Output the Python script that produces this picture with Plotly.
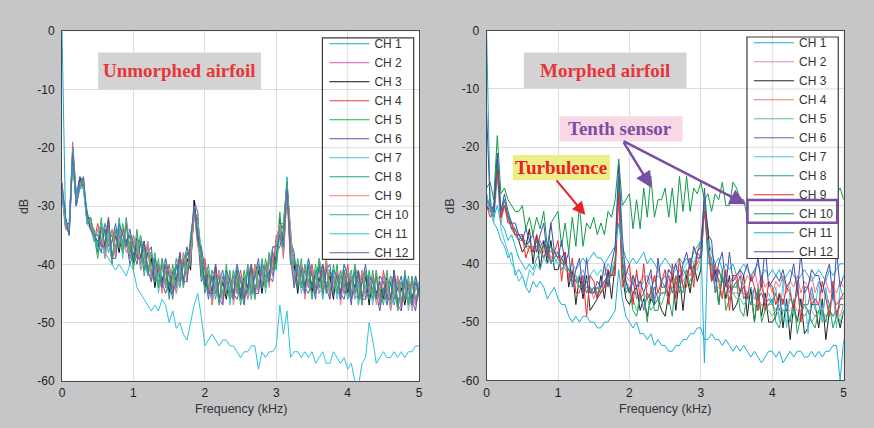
import plotly.graph_objects as go

W, H = 874, 428

FREQ = [0.00, 0.05, 0.10, 0.15, 0.20, 0.25, 0.30, 0.35, 0.40, 0.45,
        0.50, 0.55, 0.60, 0.65, 0.70, 0.75, 0.80, 0.85, 0.90, 0.95,
        1.00, 1.05, 1.10, 1.15, 1.20, 1.25, 1.30, 1.35, 1.40, 1.45,
        1.50, 1.55, 1.60, 1.65, 1.70, 1.75, 1.80, 1.85, 1.90, 1.95,
        2.00, 2.05, 2.10, 2.15, 2.20, 2.25, 2.30, 2.35, 2.40, 2.45,
        2.50, 2.55, 2.60, 2.65, 2.70, 2.75, 2.80, 2.85, 2.90, 2.95,
        3.00, 3.05, 3.10, 3.15, 3.20, 3.25, 3.30, 3.35, 3.40, 3.45,
        3.50, 3.55, 3.60, 3.65, 3.70, 3.75, 3.80, 3.85, 3.90, 3.95,
        4.00, 4.05, 4.10, 4.15, 4.20, 4.25, 4.30, 4.35, 4.40, 4.45,
        4.50, 4.55, 4.60, 4.65, 4.70, 4.75, 4.80, 4.85, 4.90, 4.95,
        5.00]

CHANNELS = ["CH 1", "CH 2", "CH 3", "CH 4", "CH 5", "CH 6",
            "CH 7", "CH 8", "CH 9", "CH 10", "CH 11", "CH 12"]

X_TICKS = [0, 1, 2, 3, 4, 5]
X_TICK_LABELS = ["0", "1", "2", "3", "4", "5"]
Y_TICKS = [-60, -50, -40, -30, -20, -10, 0]
Y_TICK_LABELS = ["-60", "-50", "-40", "-30", "-20", "-10", "0"]

# ---------------- Unmorphed airfoil (dB) ----------------
U_CH1 = [0, -33, -34, -21, -29, -26, -26, -32, -33, -35,
         -37, -34, -34, -38, -36, -34, -37, -36, -33, -39,
         -39, -36, -36, -42, -38, -38, -43, -42, -40, -44,
         -44, -42, -40, -44, -40, -38, -40, -31, -32, -42,
         -43, -42, -42, -46, -43, -42, -45, -44, -42, -45,
         -45, -43, -41, -46, -42, -40, -44, -42, -39, -42,
         -39, -33, -34, -25, -36, -39, -44, -42, -41, -44,
         -44, -42, -40, -46, -41, -41, -45, -43, -42, -45,
         -44, -43, -41, -47, -43, -41, -46, -44, -42, -47,
         -45, -43, -43, -47, -44, -43, -46, -45, -43, -47,
         -44]
U_CH2 = [-28, -34, -33, -19, -28, -27, -25, -33, -32, -36,
         -34, -37, -33, -36, -35, -39, -34, -38, -32, -39,
         -36, -39, -35, -40, -37, -43, -40, -44, -39, -44,
         -41, -45, -39, -42, -39, -43, -37, -29, -31, -42,
         -40, -45, -41, -44, -42, -47, -42, -46, -41, -45,
         -42, -46, -40, -44, -41, -45, -41, -44, -38, -42,
         -36, -33, -33, -26, -35, -44, -41, -44, -40, -44,
         -41, -45, -39, -44, -40, -46, -42, -45, -41, -45,
         -41, -46, -40, -45, -42, -46, -43, -46, -41, -47,
         -42, -46, -42, -45, -43, -48, -43, -47, -42, -47,
         -45]
U_CH3 = [-27, -32, -35, -22, -30, -25, -27, -31, -34, -35,
         -38, -33, -37, -32, -39, -35, -38, -34, -36, -35,
         -40, -35, -39, -36, -41, -39, -44, -40, -43, -40,
         -45, -41, -43, -38, -43, -39, -41, -29, -35, -38,
         -44, -41, -45, -40, -46, -43, -46, -42, -45, -41,
         -46, -42, -44, -40, -45, -41, -45, -40, -42, -38,
         -40, -32, -37, -26, -39, -40, -45, -40, -44, -40,
         -45, -41, -43, -40, -44, -42, -46, -41, -45, -41,
         -45, -42, -44, -41, -46, -42, -47, -42, -45, -43,
         -46, -42, -46, -41, -47, -44, -47, -43, -46, -43,
         -45]
U_CH4 = [-26, -33, -34, -20, -29, -27, -26, -32, -33, -36,
         -33, -36, -38, -33, -40, -34, -35, -38, -33, -38,
         -35, -38, -40, -37, -42, -38, -41, -44, -40, -43,
         -40, -44, -44, -39, -44, -38, -38, -32, -32, -41,
         -39, -44, -46, -41, -47, -42, -43, -46, -42, -44,
         -41, -45, -45, -41, -46, -40, -42, -44, -39, -41,
         -35, -35, -38, -28, -40, -39, -42, -44, -41, -43,
         -40, -44, -44, -41, -45, -41, -43, -45, -42, -44,
         -40, -45, -45, -42, -47, -41, -44, -46, -42, -46,
         -41, -45, -47, -42, -48, -43, -44, -47, -43, -46,
         -44]
U_CH5 = [-28, -34, -34, -22, -30, -26, -27, -33, -33, -34,
         -37, -32, -38, -35, -35, -38, -32, -37, -37, -35,
         -39, -34, -40, -39, -37, -42, -38, -43, -44, -40,
         -44, -40, -44, -41, -39, -42, -35, -31, -36, -38,
         -43, -40, -46, -43, -42, -46, -40, -45, -46, -41,
         -45, -41, -45, -43, -41, -44, -39, -43, -43, -38,
         -39, -31, -38, -27, -35, -43, -39, -43, -45, -40,
         -44, -40, -44, -43, -40, -45, -40, -44, -46, -41,
         -44, -41, -45, -44, -42, -45, -41, -45, -46, -43,
         -45, -41, -47, -44, -43, -47, -41, -46, -47, -43,
         -45]
U_CH6 = [-27, -33, -33, -21, -28, -25, -26, -32, -32, -35,
         -36, -38, -34, -37, -36, -33, -37, -34, -36, -40,
         -38, -40, -36, -41, -38, -37, -43, -40, -43, -45,
         -43, -46, -40, -43, -40, -37, -40, -30, -35, -43,
         -42, -46, -42, -45, -43, -41, -45, -42, -45, -46,
         -44, -47, -41, -45, -42, -39, -44, -40, -42, -43,
         -38, -37, -34, -27, -36, -38, -44, -40, -44, -45,
         -43, -46, -40, -45, -41, -40, -45, -41, -45, -46,
         -43, -47, -41, -46, -43, -40, -46, -42, -45, -48,
         -44, -47, -43, -46, -44, -42, -46, -43, -46, -48,
         -43]
U_CH7 = [-27, -33, -34, -22, -29, -26, -27, -32, -33, -35,
         -35, -33, -39, -34, -38, -38, -33, -39, -34, -34,
         -37, -35, -41, -38, -40, -42, -39, -45, -41, -39,
         -42, -41, -45, -40, -42, -42, -36, -32, -33, -37,
         -41, -41, -47, -42, -45, -46, -41, -47, -43, -40,
         -43, -42, -46, -42, -44, -44, -40, -45, -40, -37,
         -37, -34, -39, -27, -38, -43, -40, -45, -42, -39,
         -42, -41, -45, -42, -43, -45, -41, -46, -43, -40,
         -42, -42, -46, -43, -45, -45, -42, -47, -43, -42,
         -43, -42, -48, -43, -46, -47, -42, -48, -44, -42,
         -44]
U_CH8 = [-28, -33, -35, -20, -29, -27, -26, -31, -33, -35,
         -39, -34, -34, -37, -34, -37, -37, -33, -37, -36,
         -41, -36, -36, -41, -36, -41, -43, -39, -44, -41,
         -46, -42, -40, -43, -38, -41, -40, -31, -36, -39,
         -45, -42, -42, -45, -41, -45, -45, -41, -46, -42,
         -47, -43, -41, -45, -40, -43, -44, -39, -43, -39,
         -41, -33, -34, -26, -34, -42, -44, -39, -45, -41,
         -46, -42, -40, -45, -39, -44, -45, -40, -46, -42,
         -46, -43, -41, -46, -41, -44, -46, -41, -46, -44,
         -47, -43, -43, -46, -42, -46, -46, -42, -47, -44,
         -45]
U_CH9 = [-27, -34, -34, -21, -29, -26, -26, -32, -33, -35,
         -34, -34, -39, -36, -34, -38, -36, -34, -38, -36,
         -36, -36, -41, -40, -36, -42, -42, -40, -45, -41,
         -41, -42, -45, -42, -38, -42, -39, -31, -37, -39,
         -40, -42, -47, -44, -41, -46, -44, -42, -47, -42,
         -42, -43, -46, -44, -40, -44, -43, -40, -44, -39,
         -36, -33, -39, -27, -34, -43, -43, -40, -46, -41,
         -41, -42, -45, -44, -39, -45, -44, -41, -47, -42,
         -41, -43, -46, -45, -41, -45, -45, -42, -47, -44,
         -42, -43, -48, -45, -42, -47, -45, -43, -48, -44,
         -44]
U_CH10 = [-27, -33, -34, -20, -28, -27, -25, -33, -32, -35,
          -38, -36, -33, -34, -40, -34, -34, -38, -32, -38,
          -40, -38, -35, -38, -42, -38, -40, -44, -39, -43,
          -45, -44, -39, -40, -44, -38, -37, -30, -31, -41,
          -44, -44, -41, -42, -47, -42, -42, -46, -41, -44,
          -46, -45, -40, -42, -46, -40, -41, -44, -38, -41,
          -40, -35, -33, -26, -40, -39, -41, -44, -40, -43,
          -45, -44, -39, -42, -45, -41, -42, -45, -41, -44,
          -45, -45, -40, -43, -47, -41, -43, -46, -41, -46,
          -46, -45, -42, -43, -48, -43, -43, -47, -42, -46,
          -45]
U_CH11 = [-27, -33, -34, -22, -30, -27, -27, -33, -34, -36,
          -37, -38, -38, -39, -40, -41, -40, -41, -42, -40,
          -41, -44, -45, -46, -47, -48, -47, -48, -46, -47,
          -50, -48, -51, -50, -52, -53, -50, -47, -45, -49,
          -54, -53, -52, -53, -54, -53, -53, -54, -54, -55,
          -56, -55, -55, -54, -54, -58, -55, -56, -55, -55,
          -54, -47, -52, -48, -56, -55, -55, -56, -55, -56,
          -55, -57, -56, -55, -57, -57, -55, -56, -57, -56,
          -58, -57, -60, -61, -57, -56, -50, -53, -57, -56,
          -55, -56, -56, -55, -56, -55, -56, -55, -55, -54,
          -54]
U_CH12 = [-26, -32, -35, -21, -30, -26, -25, -32, -34, -35,
          -35, -37, -37, -32, -39, -39, -33, -35, -37, -34,
          -37, -39, -39, -36, -41, -43, -39, -41, -44, -39,
          -42, -45, -43, -38, -43, -43, -36, -30, -36, -37,
          -41, -45, -45, -40, -46, -47, -41, -43, -46, -40,
          -43, -46, -44, -40, -45, -45, -40, -41, -43, -37,
          -37, -35, -37, -27, -39, -44, -40, -41, -45, -39,
          -42, -45, -43, -40, -44, -46, -41, -42, -46, -40,
          -42, -46, -44, -41, -46, -46, -42, -43, -46, -42,
          -43, -46, -46, -41, -47, -48, -42, -44, -47, -42,
          -45]

# ---------------- Morphed airfoil (dB) ----------------
M_CH1 = [0, -30, -33, -34, -36, -37, -39, -38, -42, -41,
         -42, -44, -45, -43, -44, -43, -44, -46, -45, -44,
         -46, -47, -47, -49, -50, -49, -50, -49, -49, -50,
         -50, -51, -51, -50, -50, -49, -48, -41, -46, -49,
         -50, -51, -50, -52, -52, -53, -52, -54, -53, -54,
         -54, -55, -55, -54, -54, -53, -53, -52, -52, -51,
         -51, -53, -53, -52, -53, -53, -54, -53, -54, -55,
         -54, -55, -54, -55, -56, -55, -56, -57, -56, -55,
         -55, -56, -55, -57, -56, -55, -56, -55, -55, -56,
         -56, -55, -56, -55, -56, -55, -55, -54, -54, -60,
         -53]
M_CH2 = [-29, -31, -31, -24, -31, -30, -32, -33, -34, -35,
         -36, -36, -37, -37, -37, -36, -38, -37, -38, -38,
         -39, -39, -40, -41, -42, -43, -43, -44, -44, -45,
         -45, -45, -44, -44, -42, -42, -40, -27, -40, -43,
         -44, -45, -45, -46, -45, -46, -45, -46, -45, -45,
         -45, -44, -44, -44, -43, -43, -42, -42, -41, -40,
         -38, -30, -37, -41, -42, -43, -43, -44, -44, -45,
         -45, -45, -45, -46, -46, -46, -46, -47, -47, -47,
         -47, -48, -47, -48, -48, -48, -47, -48, -48, -49,
         -48, -48, -49, -48, -48, -49, -48, -49, -48, -49,
         -47]
M_CH3 = [-30, -31, -31, -24, -32, -30, -32, -34, -35, -36,
         -38, -37, -34, -40, -35, -41, -36, -40, -36, -41,
         -41, -39, -38, -44, -41, -47, -42, -46, -42, -48,
         -47, -46, -42, -46, -41, -46, -40, -26, -42, -46,
         -47, -45, -44, -48, -46, -49, -46, -47, -46, -48,
         -49, -45, -42, -48, -42, -48, -42, -45, -40, -43,
         -41, -30, -34, -43, -41, -47, -42, -46, -42, -48,
         -47, -45, -42, -49, -44, -50, -45, -49, -45, -50,
         -50, -49, -45, -51, -46, -53, -47, -50, -46, -52,
         -51, -47, -47, -51, -46, -53, -48, -49, -48, -51,
         -48]
M_CH4 = [-29, -31, -32, -23, -33, -30, -32, -34, -35, -36,
         -36, -37, -38, -37, -38, -37, -38, -37, -39, -38,
         -39, -40, -40, -42, -43, -42, -44, -43, -45, -44,
         -46, -44, -45, -43, -43, -42, -41, -27, -40, -42,
         -43, -42, -44, -43, -42, -44, -42, -43, -41, -43,
         -42, -44, -42, -43, -41, -42, -41, -42, -40, -40,
         -38, -30, -37, -40, -42, -41, -43, -42, -44, -42,
         -43, -41, -44, -42, -43, -41, -44, -42, -44, -43,
         -45, -43, -44, -42, -45, -43, -44, -42, -45, -43,
         -44, -42, -45, -43, -44, -43, -45, -44, -45, -43,
         -44]
M_CH5 = [-30, -29, -31, -22, -32, -30, -31, -34, -34, -36,
         -35, -37, -36, -38, -37, -37, -38, -37, -38, -38,
         -39, -39, -41, -41, -43, -42, -44, -44, -44, -45,
         -44, -45, -44, -43, -43, -41, -40, -26, -41, -44,
         -45, -46, -48, -46, -47, -46, -48, -47, -46, -47,
         -45, -46, -44, -45, -44, -44, -43, -43, -41, -41,
         -39, -30, -38, -41, -44, -44, -45, -45, -46, -45,
         -46, -46, -47, -46, -47, -47, -48, -47, -48, -48,
         -49, -48, -49, -49, -50, -49, -48, -50, -49, -49,
         -48, -50, -49, -48, -50, -49, -48, -49, -48, -50,
         -48]
M_CH6 = [-28, -31, -30, -22, -32, -29, -32, -34, -34, -36,
         -35, -37, -36, -38, -36, -37, -36, -38, -37, -38,
         -38, -39, -40, -41, -42, -43, -42, -44, -43, -45,
         -44, -46, -44, -43, -42, -42, -40, -25, -39, -43,
         -45, -43, -46, -45, -48, -45, -46, -44, -46, -45,
         -45, -42, -45, -43, -45, -41, -42, -40, -42, -38,
         -39, -29, -38, -39, -45, -41, -43, -42, -45, -44,
         -44, -42, -46, -45, -47, -44, -46, -45, -47, -46,
         -47, -45, -48, -46, -48, -46, -47, -45, -47, -47,
         -47, -44, -47, -47, -49, -45, -47, -46, -47, -46,
         -46]
M_CH7 = [-28, -31, -33, -25, -34, -36, -38, -40, -41, -43,
         -42, -44, -41, -42, -40, -41, -39, -40, -39, -40,
         -39, -41, -40, -42, -41, -43, -42, -41, -43, -42,
         -41, -42, -41, -42, -40, -41, -39, -28, -38, -41,
         -42, -43, -42, -44, -43, -42, -44, -43, -42, -43,
         -42, -41, -42, -41, -40, -41, -40, -39, -40, -38,
         -37, -31, -37, -40, -42, -43, -42, -44, -43, -44,
         -43, -45, -44, -45, -44, -46, -45, -44, -46, -45,
         -47, -44, -50, -43, -51, -44, -49, -43, -50, -44,
         -52, -45, -48, -43, -50, -44, -49, -45, -51, -44,
         -46]
M_CH8 = [-29, -30, -32, -23, -31, -29, -32, -33, -35, -35,
         -36, -37, -37, -38, -36, -38, -37, -38, -37, -39,
         -38, -40, -40, -41, -42, -43, -44, -43, -45, -44,
         -45, -44, -45, -44, -42, -42, -40, -25, -40, -45,
         -44, -48, -49, -46, -45, -50, -44, -48, -48, -43,
         -44, -46, -49, -42, -44, -45, -41, -44, -42, -38,
         -36, -29, -40, -40, -42, -47, -41, -48, -46, -44,
         -43, -48, -49, -45, -45, -50, -44, -50, -48, -47,
         -46, -50, -51, -48, -48, -50, -46, -52, -49, -47,
         -48, -50, -51, -48, -48, -50, -47, -51, -49, -47,
         -47]
M_CH9 = [-30, -32, -31, -24, -32, -30, -33, -33, -35, -35,
         -35, -39, -37, -38, -35, -37, -39, -37, -40, -38,
         -36, -43, -38, -43, -39, -45, -45, -42, -49, -42,
         -43, -46, -45, -44, -41, -42, -42, -28, -44, -42,
         -40, -47, -41, -46, -40, -46, -45, -42, -45, -43,
         -41, -47, -40, -46, -39, -44, -44, -39, -44, -38,
         -37, -31, -37, -43, -40, -43, -46, -41, -48, -42,
         -42, -45, -44, -46, -42, -44, -48, -42, -48, -43,
         -44, -47, -45, -47, -44, -45, -48, -43, -50, -44,
         -44, -47, -46, -47, -43, -46, -49, -43, -49, -46,
         -45]
M_CH10 = [-27, -26, -29, -18, -28, -27, -29, -30, -31, -31,
          -30, -34, -32, -35, -32, -34, -31, -37, -33, -32,
          -31, -37, -33, -38, -32, -37, -30, -37, -33, -34,
          -32, -35, -33, -35, -31, -32, -29, -22, -30, -29,
          -28, -34, -29, -34, -27, -32, -25, -32, -29, -29,
          -27, -32, -27, -33, -25, -31, -25, -31, -27, -28,
          -26, -29, -28, -31, -28, -29, -26, -30, -30, -26,
          -27, -29, -29, -32, -28, -29, -26, -33, -29, -28,
          -27, -32, -27, -33, -27, -31, -25, -32, -29, -29,
          -27, -32, -27, -33, -27, -31, -25, -32, -28, -27,
          -29]
M_CH11 = [-29, -30, -32, -30, -33, -34, -36, -35, -37, -39,
          -40, -41, -40, -41, -39, -38, -39, -38, -40, -39,
          -40, -41, -40, -41, -40, -41, -40, -39, -40, -39,
          -38, -39, -39, -40, -39, -38, -37, -33, -37, -39,
          -40, -39, -40, -39, -38, -40, -39, -40, -41, -40,
          -39, -40, -41, -40, -39, -40, -39, -40, -38, -37,
          -36, -57, -36, -38, -40, -39, -41, -40, -41, -40,
          -42, -41, -40, -41, -42, -41, -40, -42, -41, -42,
          -41, -42, -41, -43, -42, -41, -42, -43, -42, -41,
          -42, -43, -42, -41, -42, -43, -41, -42, -41, -40,
          -40]
M_CH12 = [-14, -30, -31, -21, -31, -28, -31, -33, -33, -35,
          -36, -34, -36, -35, -38, -35, -33, -39, -33, -38,
          -39, -36, -40, -38, -44, -41, -39, -45, -39, -45,
          -45, -43, -44, -40, -44, -40, -37, -23, -35, -43,
          -45, -42, -44, -43, -45, -43, -41, -47, -39, -44,
          -44, -41, -42, -40, -43, -40, -38, -41, -37, -39,
          -39, -27, -35, -36, -43, -40, -38, -44, -38, -43,
          -42, -41, -42, -40, -43, -42, -39, -44, -37, -44,
          -43, -42, -43, -41, -44, -43, -40, -45, -38, -45,
          -44, -41, -42, -42, -45, -42, -40, -46, -38, -44,
          -42]

UNMORPHED = [U_CH1, U_CH2, U_CH3, U_CH4, U_CH5, U_CH6,
             U_CH7, U_CH8, U_CH9, U_CH10, U_CH11, U_CH12]
MORPHED = [M_CH1, M_CH2, M_CH3, M_CH4, M_CH5, M_CH6,
           M_CH7, M_CH8, M_CH9, M_CH10, M_CH11, M_CH12]

for s in UNMORPHED + MORPHED:
    if len(s) != len(FREQ):
        raise ValueError("length mismatch %d" % len(s))

COLORS_L = ["#19a9cf", "#d75bbf", "#111111", "#ea3c46", "#1fb25a", "#4b5cb8",
            "#3fc4e0", "#24a862", "#f27a7a", "#36b870", "#2bc2dc", "#5767b5"]
COLORS_R = ["#1aaed2", "#d68ac0", "#222222", "#f07878", "#5cc389", "#5566b8",
            "#4cc4dc", "#22a05a", "#f02828", "#0f9a48", "#1cb0d4", "#3e4fb0"]


def PX(x):
    return x / W


def PY(y):
    return 1 - y / H


fig = go.Figure()
for name, ys, c in zip(CHANNELS, UNMORPHED, COLORS_L):
    fig.add_trace(go.Scatter(x=FREQ, y=ys, mode="lines", name=name,
                             line=dict(color=c, width=1),
                             xaxis="x", yaxis="y", legend="legend"))
for name, ys, c in zip(CHANNELS, MORPHED, COLORS_R):
    fig.add_trace(go.Scatter(x=FREQ, y=ys, mode="lines", name=name,
                             line=dict(color=c, width=1),
                             xaxis="x2", yaxis="y2", legend="legend2"))

FONT = "Liberation Sans, Arial, sans-serif"
SERIF = "Liberation Serif, Times New Roman, serif"
GRID = "#dcdcdc"
FRAME = "#4a4a4a"

xa = dict(range=[0, 5], tickvals=X_TICKS, ticktext=X_TICK_LABELS, showgrid=True,
          gridcolor=GRID, gridwidth=1, zeroline=False, showline=True, linecolor=FRAME,
          linewidth=1, mirror=True, ticks="", tickfont=dict(family=FONT, size=12, color="#222"),
          ticklabelstandoff=1, fixedrange=True)
ya = dict(range=[-60, 0], tickvals=Y_TICKS, ticktext=Y_TICK_LABELS, showgrid=True,
          gridcolor=GRID, gridwidth=1, zeroline=False, showline=True, linecolor=FRAME,
          linewidth=1, mirror=True, ticks="", tickfont=dict(family=FONT, size=12, color="#222"),
          ticklabelstandoff=4, fixedrange=True)

leg = dict(xanchor="left", yanchor="top", bgcolor="rgba(0,0,0,0)", borderwidth=0,
           font=dict(family=FONT, size=12, color="#333"), itemwidth=40,
           tracegroupgap=0, traceorder="normal")

fig.update_layout(
    width=W, height=H, margin=dict(l=0, r=0, t=0, b=0),
    paper_bgcolor="#c5c6c8", plot_bgcolor="#ffffff", showlegend=True,
    xaxis=dict(xa, domain=[PX(59.5), PX(419.5)], anchor="y"),
    yaxis=dict(ya, domain=[PY(386.5), PY(25)], anchor="x"),
    xaxis2=dict(xa, domain=[PX(487.5), PX(847.5)], anchor="y2"),
    yaxis2=dict(ya, domain=[PY(386), PY(24.5)], anchor="x2"),
    legend=dict(leg, x=PX(324), y=PY(23)),
    legend2=dict(leg, x=PX(752), y=PY(22)),
)

shapes = []
# legend backgrounds / borders with grid lines showing through
for (lx0, ly0, lx1, ly1, xr, yr) in [(322, 32, 414, 261, "x", "y"), (750, 31, 842, 260, "x2", "y2")]:
    shapes.append(dict(type="rect", xref="paper", yref="paper", x0=PX(lx0), x1=PX(lx1),
                       y0=PY(ly1), y1=PY(ly0), fillcolor="white", line=dict(width=0), layer="above"))
    shapes.append(dict(type="line", xref=xr, yref="paper", x0=4, x1=4, y0=PY(ly1), y1=PY(ly0),
                       line=dict(color=GRID, width=1), layer="above"))
    for yv in [-10, -20, -30]:
        shapes.append(dict(type="line", xref="paper", yref=yr, x0=PX(lx0), x1=PX(lx1), y0=yv, y1=yv,
                           line=dict(color=GRID, width=1), layer="above"))
    shapes.append(dict(type="rect", xref="paper", yref="paper", x0=PX(lx0), x1=PX(lx1),
                       y0=PY(ly1), y1=PY(ly0), fillcolor="rgba(0,0,0,0)",
                       line=dict(color="#3a3a3a", width=1.2), layer="above"))

# label boxes
for (bx0, by0, bx1, by1, col) in [(96, 47, 260, 85, "#d3d3d3"), (525, 47, 689, 84, "#d3d3d3"),
                                  (561, 113, 685, 139, "#f9d7e5"), (514, 153, 612, 179, "#eeee88")]:
    shapes.append(dict(type="rect", xref="paper", yref="paper", x0=PX(bx0), x1=PX(bx1),
                       y0=PY(by1), y1=PY(by0), fillcolor=col, line=dict(width=0), layer="above"))

# highlight around CH 10 in right legend
shapes.append(dict(type="rect", xref="paper", yref="paper", x0=PX(750.5), x1=PX(841),
                   y0=PY(223), y1=PY(199.5), fillcolor="rgba(0,0,0,0)",
                   line=dict(color="#7b4ea3", width=2.5), layer="above"))

PURPLE = "#7b4ea3"


def label(text, x, y, size, color, family, angle=0):
    return dict(text=text, x=PX(x), y=PY(y), xref="paper", yref="paper",
                xanchor="center", yanchor="middle", showarrow=False, textangle=angle,
                font=dict(family=family, size=size, color=color))


def arrow(hx, hy, tx, ty, color, width):
    return dict(text="", x=PX(hx), y=PY(hy), xref="paper", yref="paper", showarrow=True,
                ax=tx - hx, ay=ty - hy, arrowcolor=color, arrowwidth=width,
                arrowhead=2, arrowsize=1.3)


annotations = [
    label("<b>Unmorphed airfoil</b>", 178, 66, 19, "#e8353a", SERIF),
    label("<b>Morphed airfoil</b>", 607, 66, 19, "#e8353a", SERIF),
    label("<b>Tenth sensor</b>", 622, 126, 19, PURPLE, SERIF),
    label("<b>Turbulence</b>", 563, 166, 19, "#e8202a", SERIF),
    arrow(587, 215, 557, 179, "#e8202a", 2),
    arrow(654, 187, 625, 140, PURPLE, 2.5),
    arrow(749, 204, 625, 140, PURPLE, 2.5),
    label("Frequency (kHz)", 239.5, 416, 12.5, "#333", FONT),
    label("Frequency (kHz)", 667.5, 416, 12.5, "#333", FONT),
    label("dB", 21, 206, 12.5, "#333", FONT, -90),
    label("dB", 451, 206, 12.5, "#333", FONT, -90),
]

fig.update_layout(shapes=shapes, annotations=annotations)
fig.write_html("out.html")
